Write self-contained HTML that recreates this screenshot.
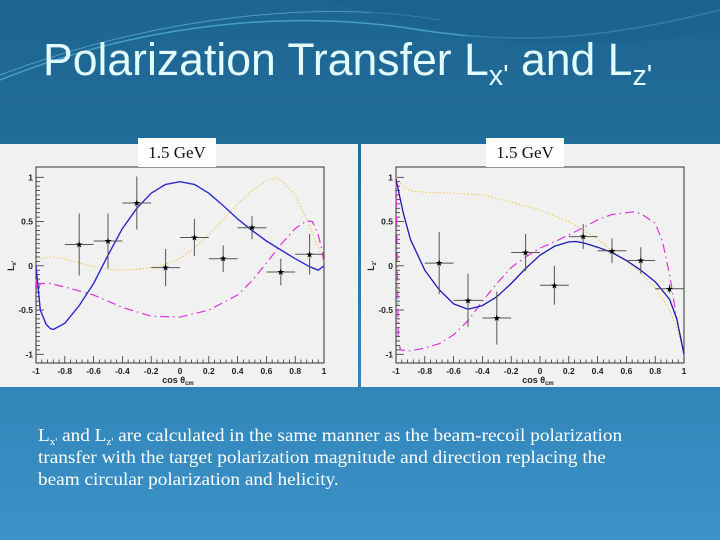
<!DOCTYPE html>
<html><head><meta charset="utf-8">
<style>
body{margin:0;width:720px;height:540px;overflow:hidden;font-family:"Liberation Sans",sans-serif}
#slide{position:relative;width:720px;height:540px;background:linear-gradient(180deg,#1d6591 0%,#236e9c 30%,#3184b8 70%,#3b93c9 100%);overflow:hidden}
#title{position:absolute;left:43px;top:34px;font-size:45px;color:#e2fbff;white-space:nowrap;transform:scaleX(0.99);transform-origin:left top}
#title sub{font-size:29px;vertical-align:-10px;line-height:0}
.panel{position:absolute;top:144px;height:243px;background:#f1f1f1}
.lbl{position:absolute;top:138px;height:29px;width:78px;background:#fff;font-family:"Liberation Serif",serif;font-size:17px;text-align:center;line-height:30px;color:#111}
#body{position:absolute;left:38px;top:424px;font-family:"Liberation Serif",serif;font-size:17.5px;line-height:22px;color:#fff;white-space:nowrap;transform:scaleX(1.1);transform-origin:left top}
#body sub{font-size:10px;line-height:0;vertical-align:-4px}
</style></head><body>
<div id="slide">
<svg style="position:absolute;left:0;top:0" width="720" height="140">
<path d="M0,80 C150,20 300,10 420,30 C520,45 600,40 720,10" stroke="#5fc6e0" stroke-width="1.5" fill="none" opacity="0.6"/>
<path d="M0,75 C160,15 320,0 440,20" stroke="#7ad8ea" stroke-width="1" fill="none" opacity="0.5"/>
<path d="M330,0 C450,40 560,60 720,30 L720,0 Z" fill="#1a5f8a" opacity="0.5"/>
</svg>
<div id="title">Polarization Transfer L<sub>x'</sub> and L<sub>z'</sub></div>
<div class="panel" style="left:0;width:358px"></div>
<div class="panel" style="left:361px;width:359px"></div>
<svg id="charts" style="position:absolute;left:0;top:0" width="720" height="540"></svg>
<div class="lbl" style="left:138px">1.5 GeV</div>
<div class="lbl" style="left:486px">1.5 GeV</div>
<div id="body">L<sub>x'</sub> and L<sub>z'</sub> are calculated in the same manner as the beam-recoil polarization<br>transfer with the target polarization magnitude and direction replacing the<br>beam circular polarization and helicity.</div>
</div>
<script>
// Lx' chart data
const ptX = [-0.7,-0.5,-0.3,-0.1,0.1,0.3,0.5,0.7,0.9];
const lxY = [0.24,0.28,0.71,-0.02,0.32,0.08,0.43,-0.07,0.13];
const lxErr = [0.35,0.31,0.30,0.21,0.21,0.15,0.13,0.15,0.23];
const lxBlueX = [-1,-0.97,-0.93,-0.9,-0.88,-0.8,-0.7,-0.6,-0.5,-0.4,-0.3,-0.2,-0.1,0,0.1,0.2,0.3,0.4,0.5,0.6,0.7,0.8,0.9,0.96,1];
const lxBlueY = [0,-0.5,-0.66,-0.71,-0.72,-0.65,-0.45,-0.2,0.12,0.42,0.65,0.82,0.92,0.95,0.92,0.82,0.68,0.53,0.4,0.28,0.18,0.08,-0.01,-0.05,0];
const lxOrX = [-1,-0.9,-0.8,-0.7,-0.6,-0.5,-0.4,-0.3,-0.2,-0.1,0,0.1,0.2,0.3,0.4,0.5,0.6,0.66,0.7,0.8,0.9,0.95,1];
const lxOrY = [0.07,0.1,0.08,0.03,-0.01,-0.04,-0.05,-0.04,-0.02,0.02,0.08,0.2,0.35,0.52,0.7,0.85,0.96,0.99,0.97,0.8,0.45,0.25,0.05];
const lxMgX = [-1,-0.99,-0.97,-0.9,-0.8,-0.6,-0.4,-0.2,0,0.2,0.4,0.5,0.6,0.7,0.8,0.88,0.92,0.96,0.99,1];
const lxMgY = [-0.15,-0.3,-0.2,-0.2,-0.24,-0.33,-0.47,-0.57,-0.58,-0.5,-0.33,-0.17,0.03,0.24,0.42,0.51,0.5,0.35,0.15,0];
// Lz' chart data
const lzY = [0.03,-0.39,-0.59,0.15,-0.22,0.33,0.17,0.06,-0.26];
const lzErr = [0.35,0.30,0.30,0.21,0.22,0.14,0.14,0.15,0.05];
const lzBlueX = [-1,-0.95,-0.9,-0.8,-0.7,-0.6,-0.5,-0.4,-0.3,-0.2,-0.1,0,0.1,0.2,0.25,0.3,0.4,0.5,0.6,0.7,0.8,0.9,0.95,1];
const lzBlueY = [0.98,0.6,0.3,-0.05,-0.27,-0.43,-0.49,-0.45,-0.35,-0.2,-0.03,0.12,0.22,0.27,0.275,0.26,0.21,0.15,0.06,-0.05,-0.18,-0.38,-0.6,-1.0];
const lzOrX = [-1,-0.95,-0.9,-0.8,-0.6,-0.4,-0.2,0,0.2,0.3,0.4,0.5,0.6,0.7,0.8,0.9,0.95,1];
const lzOrY = [1.0,0.9,0.85,0.83,0.82,0.8,0.72,0.63,0.5,0.41,0.3,0.17,0.05,-0.08,-0.25,-0.5,-0.7,-0.97];
const lzMgX = [-1,-0.99,-0.985,-0.97,-0.9,-0.8,-0.7,-0.6,-0.5,-0.4,-0.3,-0.2,-0.1,0,0.1,0.2,0.3,0.4,0.5,0.6,0.65,0.7,0.8,0.85,0.9,0.95,1];
const lzMgY = [0.98,0,-0.8,-0.95,-0.96,-0.93,-0.88,-0.78,-0.62,-0.4,-0.2,-0.02,0.1,0.2,0.27,0.35,0.43,0.52,0.58,0.6,0.61,0.59,0.48,0.28,-0.1,-0.6,-1.0];
const xTicks = [-1,-0.8,-0.6,-0.4,-0.2,0,0.2,0.4,0.6,0.8,1];
const yTicks = [-1,-0.5,0,0.5,1];

const NS='http://www.w3.org/2000/svg';
const svg=document.getElementById('charts');
function mk(tag,attrs,parent){const e=document.createElementNS(NS,tag);for(const k in attrs)e.setAttribute(k,attrs[k]);(parent||svg).appendChild(e);return e;}

function chart(left,name,ylab,pY,pErr,curves){
  const fx0=left, fx1=left+288, fy0=167, fy1=363;
  const X=v=>left+144*(v+1);
  const Y=v=>265.8-88.5*v;
  const g=mk('g',{});
  
  
  const fr=mk('rect',{x:fx0,y:fy0,width:fx1-fx0,height:fy1-fy0,fill:'#f1f1f1',stroke:'#333','stroke-width':1},g);
  
  
  for(let i=0;i<=50;i++){const v=-1+i*0.04;const major=Math.abs(v*5-Math.round(v*5))<1e-6;
    mk('line',{x1:X(v),x2:X(v),y1:fy1,y2:fy1-(major?7:3.5),stroke:'#333','stroke-width':0.8},g);}
  xTicks.forEach(v=>{const t=mk('text',{x:X(v),y:374,'text-anchor':'middle','font-size':8.5,'font-weight':'bold',fill:'#222'},g);t.textContent=String(v);
    });
  for(let i=0;i<=40;i++){const v=-1+i*0.05;const major=Math.abs(v*2-Math.round(v*2))<1e-6;
    mk('line',{x1:fx0,x2:fx0+(major?8:4),y1:Y(v),y2:Y(v),stroke:'#333','stroke-width':0.8},g);}
  yTicks.forEach(v=>{const t=mk('text',{x:fx0-3,y:Y(v)+3,'text-anchor':'end','font-size':8.5,'font-weight':'bold',fill:'#222'},g);t.textContent=String(v);
    });
  const yl=mk('text',{x:0,y:0,transform:`translate(${fx0-22},${Y(0)}) rotate(-90)`,'text-anchor':'middle','font-size':9,'font-weight':'bold',fill:'#222'},g);
  yl.innerHTML=ylab;
  
  const xl=mk('text',{x:X(0)-2,y:383,'text-anchor':'middle','font-size':9,'font-weight':'bold',fill:'#222'},g);
  xl.innerHTML='cos θ<tspan font-size="6" dy="2">cm</tspan>';
  
  curves.forEach(c=>{
    const d=c.x.map((v,i)=>(i?'L':'M')+X(v).toFixed(1)+','+Y(c.y[i]).toFixed(1)).join(' ');
    const p=mk('path',{d:d,fill:'none',stroke:c.col,'stroke-width':c.w,'stroke-dasharray':c.dash||'none','stroke-linejoin':'round'},g);
    
    
  });
  ptX.forEach((v,i)=>{
    const pg=mk('g',{},g);
    
    
    mk('line',{x1:X(v-0.1),x2:X(v+0.1),y1:Y(pY[i]),y2:Y(pY[i]),stroke:'#555','stroke-width':1},pg);
    mk('line',{x1:X(v),x2:X(v),y1:Y(pY[i]+pErr[i]),y2:Y(pY[i]-pErr[i]),stroke:'#555','stroke-width':1},pg);
    const s=mk('text',{x:X(v),y:Y(pY[i])+3,'text-anchor':'middle','font-size':9,fill:'#000'},pg);s.textContent='★';
  });
}
chart(36,'lx-chart','L<tspan font-size="6" dy="2">x\'</tspan>',lxY,lxErr,[
 {x:lxOrX,y:lxOrY,col:'#f2c24a',w:1,dash:'1.5 2',name:'orange-dotted-curve'},
 {x:lxMgX,y:lxMgY,col:'#dd33dd',w:1.2,dash:'9 4 1.5 4',name:'magenta-dashdot-curve'},
 {x:lxBlueX,y:lxBlueY,col:'#2a2ad0',w:1.4,name:'blue-solid-curve'}]);
chart(396,'lz-chart','L<tspan font-size="6" dy="2">z\'</tspan>',lzY,lzErr,[
 {x:lzOrX,y:lzOrY,col:'#f2c24a',w:1,dash:'1.5 2',name:'orange-dotted-curve'},
 {x:lzMgX,y:lzMgY,col:'#dd33dd',w:1.2,dash:'9 4 1.5 4',name:'magenta-dashdot-curve'},
 {x:lzBlueX,y:lzBlueY,col:'#1a1ab0',w:1.3,name:'blue-solid-curve'}]);
</script>
</body></html>
